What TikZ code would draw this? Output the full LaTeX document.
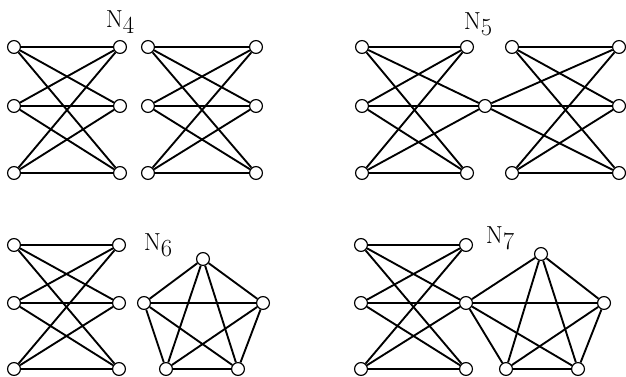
\documentclass[tikz,border=0pt]{standalone}
\usepackage{tikz}
\tikzset{
    vtx/.style={circle, draw, line width=1pt, fill=white, minimum size=11pt, inner sep=0},
    edge/.style={line width=1.6pt},
    netlab/.style={font=\fontsize{21}{25}\selectfont, inner sep=0},
}
\newcommand{\netname}[1]{N\raisebox{-5pt}{#1}}

\begin{document}
\begin{tikzpicture}[x=0.03cm, y=-0.03cm]
    \useasboundingbox (0,0) rectangle (626,377);

    % N_4 : two disjoint K_{3,3}
    \node[netlab] (l4) at (120,22) {\netname{4}};
    \foreach \c/\x in {a/14, b/120, c/148, d/256} {
        \foreach \r/\y in {1/47, 2/106, 3/173} {
            \node[vtx] (p\c\r) at (\x,\y) {};
        }
    }
    \foreach \i in {1,2,3} {
        \foreach \j in {1,2,3} {
            \draw[edge] (pa\i) -- (pb\j);
            \draw[edge] (pc\i) -- (pd\j);
        }
    }

    % N_5 : two K_{3,3} sharing one vertex
    \node[netlab] (l5) at (478,24) {\netname{5}};
    \foreach \r/\y in {1/47, 2/106, 3/173} {
        \node[vtx] (qa\r) at (362,\y) {};
        \node[vtx] (qd\r) at (619,\y) {};
    }
    \node[vtx] (qb1) at (467,47) {};
    \node[vtx] (qb3) at (467,173) {};
    \node[vtx] (qc1) at (512,47) {};
    \node[vtx] (qc3) at (512,173) {};
    \node[vtx] (qm) at (485,106) {};
    \foreach \i in {1,2,3} {
        \foreach \n in {qb1, qm, qb3} {
            \draw[edge] (qa\i) -- (\n);
        }
        \foreach \n in {qc1, qm, qc3} {
            \draw[edge] (qd\i) -- (\n);
        }
    }

    % N_6 : K_{3,3} and K_5
    \node[netlab] (l6) at (158,245) {\netname{6}};
    \foreach \r/\y in {1/245, 2/303, 3/369} {
        \node[vtx] (ra\r) at (14,\y) {};
        \node[vtx] (rb\r) at (119,\y) {};
    }
    \foreach \i in {1,2,3} {
        \foreach \j in {1,2,3} {
            \draw[edge] (ra\i) -- (rb\j);
        }
    }
    \foreach \k/\x/\y in {1/203/259, 2/263/303, 3/238/369, 4/166/369, 5/144/303} {
        \node[vtx] (rk\k) at (\x,\y) {};
    }
    \foreach \i/\j in {1/2, 1/3, 1/4, 1/5, 2/3, 2/4, 2/5, 3/4, 3/5, 4/5} {
        \draw[edge] (rk\i) -- (rk\j);
    }

    % N_7 : K_{3,3} and K_5 sharing one vertex
    \node[netlab] (l7) at (500,238) {\netname{7}};
    \foreach \r/\y in {1/245, 2/303, 3/369} {
        \node[vtx] (sa\r) at (361,\y) {};
    }
    \node[vtx] (sb1) at (466,245) {};
    \node[vtx] (sk5) at (466,303) {};
    \node[vtx] (sb3) at (466,369) {};
    \foreach \i in {1,2,3} {
        \foreach \n in {sb1, sk5, sb3} {
            \draw[edge] (sa\i) -- (\n);
        }
    }
    \foreach \k/\x/\y in {1/541/254, 2/604/303, 3/578/369, 4/506/369} {
        \node[vtx] (sk\k) at (\x,\y) {};
    }
    \foreach \i/\j in {1/2, 1/3, 1/4, 1/5, 2/3, 2/4, 2/5, 3/4, 3/5, 4/5} {
        \draw[edge] (sk\i) -- (sk\j);
    }
\end{tikzpicture}
\end{document}
